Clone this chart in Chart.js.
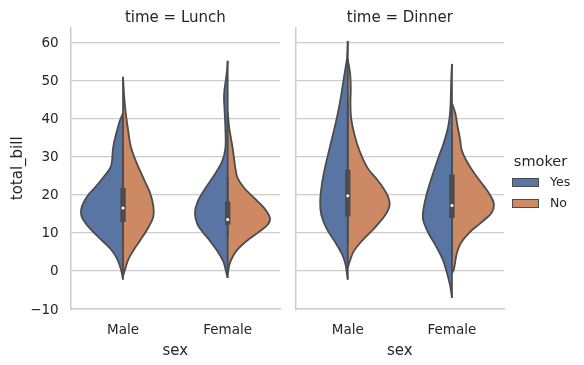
<!DOCTYPE html>
<html><head><meta charset="utf-8">
<script src="https://cdn.jsdelivr.net/npm/chart.js@4"></script>
<style>
html,body{margin:0;padding:0;background:#fff;}
#wrap{position:relative;width:584px;height:365px;overflow:hidden;font-family:"DejaVu Sans",sans-serif;color:#262626;}
canvas{position:absolute;top:0;}
#c1{left:0}
#c2{left:285px}
.lg{position:absolute;white-space:nowrap;line-height:1;}
.box{position:absolute;box-sizing:border-box;border:1px solid #4c4c4c;}
</style></head><body>
<div id="wrap">
<canvas id="c1" width="285" height="365"></canvas>
<canvas id="c2" width="299" height="365"></canvas>
</div>
<script>
// ---------- data ----------
const categories = ['Male', 'Female'];
const panelTitles = ['time = Lunch', 'time = Dinner'];
const hues = ['Yes', 'No'];
const legendTitle = 'smoker';
const yTicks = [-10, 0, 10, 20, 30, 40, 50, 60];

// half-violin outlines: total_bill levels and half widths (category units)
const lunchMaleYesY = [41.5, 38.8, 32.7, 27.5, 24.8, 22.2, 19.6, 17.0, 15.2, 13.5, 10.8, 8.2, 5.6, 3.0, 0.3, -2.3];
const lunchMaleYesW = [0, .038, .093, .115, .182, .258, .341, .392, .402, .382, .306, .210, .115, .054, .019, 0];
const lunchMaleNoY = [51.0, 46.3, 41.5, 37.1, 32.7, 28.3, 24.0, 20.5, 17.0, 14.3, 11.7, 8.2, 5.6, 3.0, 0.3, -1.4];
const lunchMaleNoW = [0, .010, .026, .048, .074, .131, .201, .258, .290, .290, .249, .169, .105, .051, .019, 0];
const lunchFemaleYesY = [55.2, 52.8, 50.6, 46.2, 41.8, 37.4, 32.2, 28.7, 25.2, 21.7, 18.2, 15.1, 12.1, 8.6, 5.1, 2.4, -0.2, -1.9];
const lunchFemaleYesW = [0, .006, .016, .035, .029, .022, .022, .054, .127, .213, .287, .313, .287, .191, .096, .041, .016, 0];
const lunchFemaleNoY = [42.0, 37.4, 32.2, 26.9, 24.3, 21.7, 19.1, 16.4, 13.8, 12.1, 10.3, 7.7, 5.1, 2.4, 0.7, -1.1];
const lunchFemaleNoW = [0, .016, .048, .074, .096, .160, .255, .351, .404, .382, .303, .175, .079, .026, .010, 0];

const dinnerMaleYesY = [60.4, 56.0, 53.3, 48.9, 44.5, 40.2, 35.8, 31.4, 27.0, 22.7, 18.3, 14.8, 11.3, 7.8, 4.3, 1.7, -1.0, -2.3];
const dinnerMaleYesW = [0, .007, .022, .048, .074, .105, .143, .182, .220, .249, .265, .255, .207, .127, .054, .022, .007, 0];
const dinnerMaleNoY = [55.5, 52.0, 48.0, 44.5, 40.2, 35.8, 31.4, 27.0, 23.5, 20.0, 17.4, 14.8, 11.3, 7.8, 5.1, 2.5, 0.8];
const dinnerMaleNoW = [0, .022, .029, .026, .032, .064, .115, .191, .296, .378, .402, .363, .258, .134, .057, .019, 0];
const dinnerFemaleYesY = [54.4, 50.0, 46.7, 42.3, 38.0, 33.6, 29.2, 24.8, 20.5, 16.1, 13.5, 10.0, 6.5, 3.0, -0.5, -4.0, -7.1];
const dinnerFemaleYesW = [0, .007, .010, .016, .035, .079, .137, .191, .239, .274, .277, .227, .153, .089, .048, .016, 0];
const dinnerFemaleNoY = [44.1, 41.5, 38.0, 34.5, 31.8, 29.2, 25.7, 22.2, 19.6, 17.4, 15.2, 12.6, 10.0, 7.3, 4.7, 2.1, 0.3, -0.6];
const dinnerFemaleNoW = [0, .032, .054, .079, .093, .134, .213, .309, .373, .404, .380, .277, .165, .086, .048, .030, .018, 0];

// inner box statistics per category (Male, Female)
const lunchQ1 = [12.8, 12.1];
const lunchQ3 = [21.8, 18.2];
const lunchMedian = [16.5, 13.5];
const lunchWhiskerLo = [7.4, 8.6];
const lunchWhiskerHi = [33.2, 24.7];
const dinnerQ1 = [14.3, 13.9];
const dinnerQ3 = [26.6, 25.3];
const dinnerMedian = [19.7, 17.2];
const dinnerWhiskerLo = [7.3, 3.1];
const dinnerWhiskerHi = [44.3, 35.8];

// ---------- styling ----------
const GRAY = '#4c4c4c';
const TEXT = '#262626';
const GRID = '#cccccc';
const hueColors = ['#5975a4', '#cc8963'];
const LW = 1.8;

Chart.defaults.font.family = '"DejaVu Sans", sans-serif';
Chart.defaults.color = TEXT;
Chart.defaults.animation = false;

function half(ci, ys, ws, side, color) {
  return {
    data: ys.map((y, i) => ({x: ci + side * ws[i], y})),
    borderColor: GRAY, borderWidth: LW, backgroundColor: color,
    fill: 'shape', tension: 0.35, pointRadius: 0, pointHoverRadius: 0, order: 5
  };
}
function vline(ci, lo, hi, w, order) {
  return {
    data: [{x: ci, y: lo}, {x: ci, y: hi}],
    borderColor: GRAY, borderWidth: w, borderCapStyle: 'butt',
    fill: false, pointRadius: 0, pointHoverRadius: 0, order
  };
}
function panel(halves, q1, q3, med, wlo, whi) {
  const ds = [];
  halves.forEach((h, ci) => {
    ds.push(half(ci, h[0], h[1], -1, hueColors[0]));
    ds.push(half(ci, h[2], h[3], 1, hueColors[1]));
    const lo = Math.min(h[0][h[0].length - 1], h[2][h[2].length - 1]);
    const hi = Math.max(h[0][0], h[2][0]);
    ds.push(vline(ci, lo, hi, LW, 4));
    ds.push(vline(ci, wlo[ci], whi[ci], LW, 3));
    ds.push(vline(ci, q1[ci], q3[ci], LW * 3, 2));
  });
  ds.push({
    data: med.map((m, ci) => ({x: ci, y: m})), showLine: false,
    pointRadius: 1.5, pointBackgroundColor: '#ffffff', pointBorderWidth: 0,
    pointHoverRadius: 0, order: 0
  });
  return ds;
}

function makeChart(id, title, datasets, isLeft) {
  return new Chart(document.getElementById(id), {
    type: 'line',
    data: {datasets},
    options: {
      responsive: false, animation: false, events: [],
      layout: {padding: isLeft ? {left: 4.8, right: 5, top: 0, bottom: 0} : {left: 0, right: 80, top: 0, bottom: 0}},
      plugins: {
        legend: {display: false}, tooltip: {enabled: false},
        title: {display: true, text: title, fullSize: false, color: TEXT,
          font: {size: 15, weight: 'normal'}, padding: {top: 9, bottom: 0.4}}
      },
      scales: {
        x: {
          type: 'linear', min: -0.5, max: 1.5,
          afterBuildTicks: s => { s.ticks = categories.map((c, i) => ({value: i})); },
          afterFit: s => { s.height = 55.8; },
          ticks: {autoSkip: false, maxRotation: 0, padding: 13.6, color: TEXT,
            font: {size: 13.5}, callback: v => categories[v]},
          grid: {display: true, drawOnChartArea: false, drawTicks: false},
          border: {display: true, color: GRID, width: 1.5},
          title: {display: true, text: 'sex', color: TEXT, font: {size: 15}, padding: {top: 0, bottom: 4.5}}
        },
        y: {
          type: 'linear', min: -10.1, max: 64,
          afterBuildTicks: s => { s.ticks = yTicks.map(v => ({value: v})); },
          afterFit: s => { s.width = isLeft ? 65.9 : 10.7; },
          ticks: {display: isLeft, padding: 12, labelOffset: 1.2, color: TEXT, font: {size: 13.5},
            callback: v => String(v).replace('-', '\u2212')},
          grid: {color: GRID, lineWidth: 1.2, drawTicks: false},
          border: {display: true, color: GRID, width: 1.5},
          title: {display: isLeft, text: 'total_bill', color: TEXT, font: {size: 15}, padding: {top: 4, bottom: 4}}
        }
      }
    }
  });
}

makeChart('c1', panelTitles[0], panel([
  [lunchMaleYesY, lunchMaleYesW, lunchMaleNoY, lunchMaleNoW],
  [lunchFemaleYesY, lunchFemaleYesW, lunchFemaleNoY, lunchFemaleNoW]
], lunchQ1, lunchQ3, lunchMedian, lunchWhiskerLo, lunchWhiskerHi), true);

makeChart('c2', panelTitles[1], panel([
  [dinnerMaleYesY, dinnerMaleYesW, dinnerMaleNoY, dinnerMaleNoW],
  [dinnerFemaleYesY, dinnerFemaleYesW, dinnerFemaleNoY, dinnerFemaleNoW]
], dinnerQ1, dinnerQ3, dinnerMedian, dinnerWhiskerLo, dinnerWhiskerHi), false);

// ---------- legend ----------
const wrap = document.getElementById('wrap');
const t = document.createElement('div');
t.className = 'lg'; t.textContent = legendTitle;
t.style.cssText = 'left:500px;width:81px;text-align:center;top:153.6px;font-size:14.5px;';
wrap.appendChild(t);
hues.forEach((h, i) => {
  const b = document.createElement('div');
  b.className = 'box';
  b.style.cssText = `left:511.7px;top:${178.3 + i * 21}px;width:27.3px;height:8.6px;background:${hueColors[i]};`;
  wrap.appendChild(b);
  const l = document.createElement('div');
  l.className = 'lg'; l.textContent = h;
  l.style.cssText = `left:550px;top:${176.1 + i * 21}px;font-size:12.5px;`;
  wrap.appendChild(l);
});
</script>
</body></html>
